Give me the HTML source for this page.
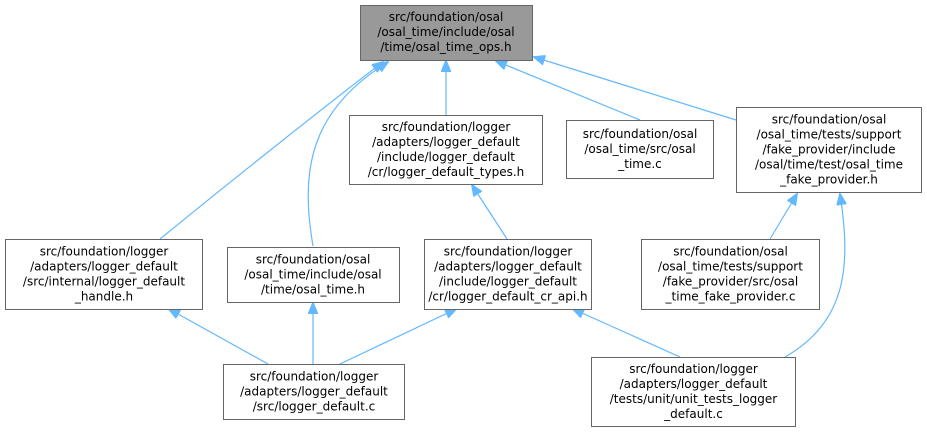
<!DOCTYPE html>
<html><head><meta charset="utf-8"><style>
html,body{margin:0;padding:0;background:#fff;}
svg{display:block;}
text{font-family:"DejaVu Sans","Liberation Sans",sans-serif;font-size:12px;fill:#000;text-anchor:middle;}
</style></head><body>
<svg width="927" height="432" viewBox="0 0 927 432" xmlns="http://www.w3.org/2000/svg">
<defs>
<marker id="a" markerWidth="12" markerHeight="10" refX="11" refY="5" orient="auto" markerUnits="userSpaceOnUse">
<path d="M0,0 L12,5 L0,10 z" fill="#63b8ff" stroke="#63b8ff"/>
</marker>
</defs>
<g fill="none" stroke="#63b8ff" stroke-width="1.2" marker-end="url(#a)">
<path d="M160,239 C220,190 320,110 383,62"/>
<path d="M313,246 C300,170 310,110 388,62"/>
<path d="M446,115 L446,61"/>
<path d="M640,120 L496,61"/>
<path d="M736,120 L534,57"/>
<path d="M507,239 L472,185"/>
<path d="M770,239 L797,194"/>
<path d="M785,357 C850,320 850,260 840,194"/>
<path d="M268,364 L169,309"/>
<path d="M313,364 L313,303"/>
<path d="M340,364 L456,309"/>
<path d="M680,357 L573,309"/>
</g>
<g stroke="#666" stroke-width="1" fill="#fff">
<rect x="360.5" y="5.5" width="172" height="55" fill="#999"/>
<rect x="349.5" y="115.5" width="193" height="69"/>
<rect x="566.5" y="120.5" width="147" height="58"/>
<rect x="736.5" y="107.5" width="185" height="85"/>
<rect x="5.5" y="239.5" width="197" height="70"/>
<rect x="227.5" y="247.5" width="172" height="55"/>
<rect x="424.5" y="239.5" width="167" height="70"/>
<rect x="641.5" y="239.5" width="178" height="70"/>
<rect x="223.5" y="364.5" width="181" height="55"/>
<rect x="591.5" y="357.5" width="204" height="69"/>
</g>
<text x="446" y="21">src/foundation/osal</text>
<text x="446" y="36">/osal_time/include/osal</text>
<text x="446" y="51">/time/osal_time_ops.h</text>

<text x="446" y="131">src/foundation/logger</text>
<text x="446" y="146">/adapters/logger_default</text>
<text x="446" y="161">/include/logger_default</text>
<text x="446" y="176">/cr/logger_default_types.h</text>

<text x="640" y="138">src/foundation/osal</text>
<text x="640" y="153">/osal_time/src/osal</text>
<text x="640" y="168">_time.c</text>

<text x="829" y="123.5">src/foundation/osal</text>
<text x="829" y="138.5">/osal_time/tests/support</text>
<text x="829" y="153.5">/fake_provider/include</text>
<text x="829" y="168.5">/osal/time/test/osal_time</text>
<text x="829" y="183.5">_fake_provider.h</text>

<text x="104" y="255.5">src/foundation/logger</text>
<text x="104" y="270.5">/adapters/logger_default</text>
<text x="104" y="285.5">/src/internal/logger_default</text>
<text x="104" y="300.5">_handle.h</text>

<text x="313" y="263.5">src/foundation/osal</text>
<text x="313" y="278.5">/osal_time/include/osal</text>
<text x="313" y="293.5">/time/osal_time.h</text>

<text x="508" y="255.5">src/foundation/logger</text>
<text x="508" y="270.5">/adapters/logger_default</text>
<text x="508" y="285.5">/include/logger_default</text>
<text x="508" y="300.5">/cr/logger_default_cr_api.h</text>

<text x="730.5" y="255.5">src/foundation/osal</text>
<text x="730.5" y="270.5">/osal_time/tests/support</text>
<text x="730.5" y="285.5">/fake_provider/src/osal</text>
<text x="730.5" y="300.5">_time_fake_provider.c</text>

<text x="314" y="380.5">src/foundation/logger</text>
<text x="314" y="395.5">/adapters/logger_default</text>
<text x="314" y="410.5">/src/logger_default.c</text>

<text x="693.5" y="373">src/foundation/logger</text>
<text x="693.5" y="388">/adapters/logger_default</text>
<text x="693.5" y="403">/tests/unit/unit_tests_logger</text>
<text x="693.5" y="418">_default.c</text>
</svg>
</body></html>
